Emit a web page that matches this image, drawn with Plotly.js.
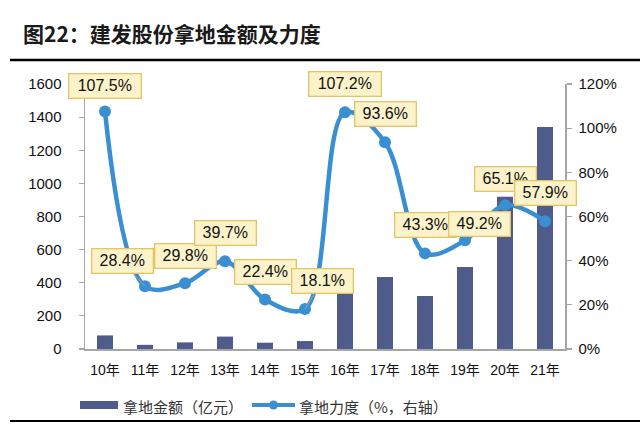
<!DOCTYPE html>
<html>
<head>
<meta charset="utf-8">
<script src="https://cdn.plot.ly/plotly-3.0.1.min.js"></script>
<style>html,body{margin:0;padding:0;background:#fff;}#chart{width:640px;height:427px;}</style>
</head>
<body>
<div id="chart"></div>
<script>
// ---- data ----
const categories = ['10年','11年','12年','13年','14年','15年','16年','17年','18年','19年','20年','21年'];
const landAmount = [82, 25, 40, 75, 38, 48, 350, 435, 320, 495, 920, 1340];
const landIntensity = [107.5, 28.4, 29.8, 39.7, 22.4, 18.1, 107.2, 93.6, 43.3, 49.2, 65.1, 57.9];
const intensityLabels = ['107.5%','28.4%','29.8%','39.7%','22.4%','18.1%','107.2%','93.6%','43.3%','49.2%','65.1%','57.9%'];
const seriesNames = ['拿地金额（亿元）', '拿地力度（%，右轴）'];
const titleText = '图22：建发股份拿地金额及力度';

// ---- layout geometry (pixels) ----
const W = 640, H = 427;
const L = 85, R = 565, T = 84, B = 349;
const px = x => (x - L) / (R - L);
const py = y => (B - y) / (B - T);

const barColor = '#4f5b8b';
const lineColor = '#3a8fd3';
const axisGrey = '#a6a6a6';
const font = '"Liberation Sans", Arial, "Noto Sans CJK SC", sans-serif';
const cjk = '"Noto Sans CJK SC", sans-serif';

// label offsets (pixels from the point to the box centre) and leader flags
const offsets = [
  [0, -26, false], [-23, -25, true], [0, -27, false], [0, -28, false],
  [0, -28, false], [17, -28, true], [0, -28, false], [0, -28, false],
  [0, -28, false], [14, -16, false], [0, -26, false], [0, -28, false]
];

const annotations = categories.map((c, i) => ({
  x: c, y: landIntensity[i], xref: 'x', yref: 'y2',
  text: intensityLabels[i],
  width: intensityLabels[i].length > 5 ? 65 : 54,
  showarrow: true, arrowhead: 0, arrowwidth: 1,
  arrowcolor: offsets[i][2] ? '#a0a0a0' : 'rgba(0,0,0,0)',
  ax: offsets[i][0], ay: offsets[i][1],
  bgcolor: '#fdf3cb', bordercolor: '#e5c465', borderwidth: 1.3, borderpad: 3,
  font: {family: font, size: 16, color: '#111'}
}));

// title
annotations.push({
  xref: 'paper', yref: 'paper', x: px(21), y: py(33), xanchor: 'left', yanchor: 'middle',
  text: '<b>' + titleText + '</b>', showarrow: false,
  font: {family: cjk, size: 21, color: '#1a1a1a'}
});
// legend texts
annotations.push({
  xref: 'paper', yref: 'paper', x: px(121), y: py(406), xanchor: 'left', yanchor: 'middle',
  text: seriesNames[0], showarrow: false, font: {family: cjk, size: 15, color: '#333'}
});
annotations.push({
  xref: 'paper', yref: 'paper', x: px(297), y: py(406), xanchor: 'left', yanchor: 'middle',
  text: seriesNames[1], showarrow: false, font: {family: cjk, size: 15, color: '#333'}
});

const shapes = [
  {type: 'line', xref: 'paper', yref: 'paper', x0: px(10), x1: px(640), y0: py(60), y1: py(60),
   line: {color: '#000', width: 2.5}},
  {type: 'line', xref: 'paper', yref: 'paper', x0: px(10), x1: px(640), y0: py(421), y1: py(421),
   line: {color: '#000', width: 2}},
  {type: 'rect', xref: 'paper', yref: 'paper', x0: px(80), x1: px(118), y0: py(401), y1: py(409),
   fillcolor: barColor, line: {width: 0}},
  {type: 'line', xref: 'paper', yref: 'paper', x0: px(252), x1: px(295), y0: py(405), y1: py(405),
   line: {color: lineColor, width: 4}},
  {type: 'circle', xref: 'paper', yref: 'paper', x0: px(269), x1: px(278), y0: py(400.5), y1: py(409.5),
   fillcolor: lineColor, line: {width: 0}}
];

const traces = [
  {type: 'bar', x: categories, y: landAmount, name: seriesNames[0],
   marker: {color: barColor}, width: 0.4, yaxis: 'y', hoverinfo: 'skip'},
  {type: 'scatter', mode: 'lines+markers', x: categories, y: landIntensity, name: seriesNames[1],
   yaxis: 'y2', line: {color: lineColor, width: 4.5, shape: 'spline', smoothing: 1},
   marker: {color: lineColor, size: 12}, hoverinfo: 'skip', cliponaxis: false}
];

const layout = {
  width: W, height: H,
  margin: {l: L, r: W - R, t: T, b: H - B, pad: 0, autoexpand: false},
  paper_bgcolor: '#fff', plot_bgcolor: '#fff',
  showlegend: false,
  bargap: 0.6,
  xaxis: {
    type: 'category', range: [-0.5, categories.length - 0.5], automargin: false,
    showgrid: false, zeroline: false,
    showline: true, linecolor: axisGrey, linewidth: 1.5,
    ticks: '', tickfont: {family: font, size: 14, color: '#111'},
    ticklabelstandoff: 8, fixedrange: true
  },
  yaxis: {
    range: [0, 1600], dtick: 200, automargin: false, showgrid: false, zeroline: false,
    showline: true, linecolor: axisGrey, linewidth: 1.5,
    ticks: 'outside', ticklen: 5, tickcolor: axisGrey, tickwidth: 1.2,
    tickfont: {family: font, size: 15, color: '#111'}, ticklabelstandoff: 14
  },
  yaxis2: {
    range: [0, 120], dtick: 20, ticksuffix: '%', overlaying: 'y', side: 'right', automargin: false,
    showgrid: false, zeroline: false,
    showline: true, linecolor: axisGrey, linewidth: 1.5,
    ticks: 'outside', ticklen: 5, tickcolor: axisGrey, tickwidth: 1.2,
    tickfont: {family: font, size: 15, color: '#111'}, ticklabelstandoff: 4
  },
  annotations: annotations,
  shapes: shapes
};

Plotly.newPlot('chart', traces, layout, {displayModeBar: false, staticPlot: true});
</script>
</body>
</html>
